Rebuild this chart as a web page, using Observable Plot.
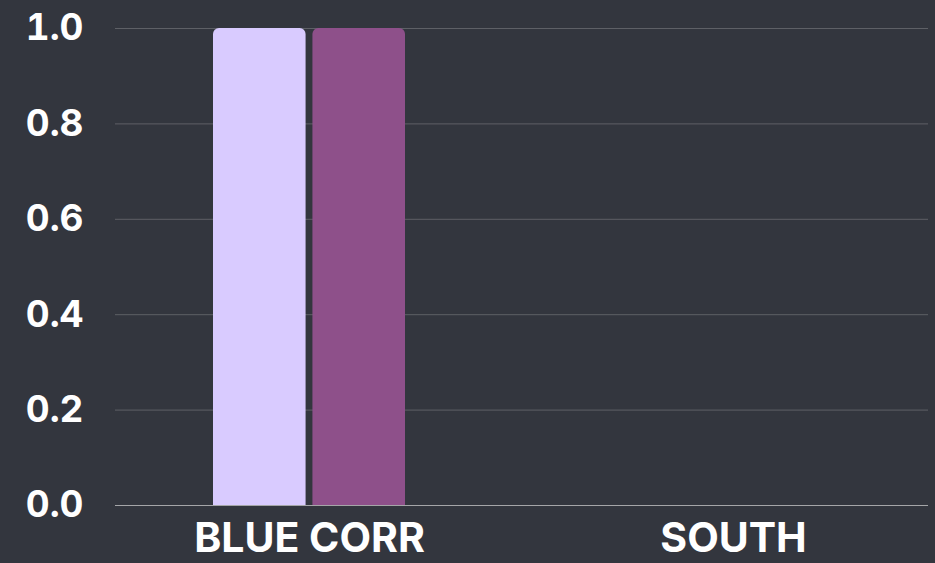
<!DOCTYPE html>
<html>
<head>
<meta charset="utf-8">
<script src="https://cdn.jsdelivr.net/npm/d3@7"></script>
<script src="https://cdn.jsdelivr.net/npm/@observablehq/plot@0.6"></script>
<style>
  html, body { margin: 0; padding: 0; background: #33363e; }
  #chart { width: 935px; height: 563px; }
</style>
</head>
<body>
<div id="chart"></div>
<script>
const categories = ["BLUE CORR", "SOUTH"];
const seriesNames = ["Series 1", "Series 2"];
const series1 = [1.0, 0];
const series2 = [1.0, 0];
const yTicks = [0, 0.2, 0.4, 0.6, 0.8, 1.0];
const seriesColors = ["#d9cbff", "#8e508a"];

const data1 = categories.map((c, i) => ({category: c, series: seriesNames[0], value: series1[i]}));
const data2 = categories.map((c, i) => ({category: c, series: seriesNames[1], value: series2[i]}));

const halfGap = 3;
const xPad = {paddingInner: 0.546, paddingOuter: 0.23};
const W = 935, ML = 115, MR = 7;
// band width of a category (used only for the inset that splits a band into two bars)
const step = (W - ML - MR) / (categories.length - xPad.paddingInner + 2 * xPad.paddingOuter);
const bw = step * (1 - xPad.paddingInner);
const inset = bw / 2 + halfGap;

const chart = Plot.plot({
  width: W,
  height: 563,
  marginLeft: ML,
  marginRight: MR,
  marginTop: 28,
  marginBottom: 58,
  style: {background: "#33363e", color: "#ffffff", fontFamily: "Inter, sans-serif", fontWeight: 700},
  x: {domain: categories, ...xPad, label: null},
  y: {domain: [0, 1], label: null},
  color: {domain: seriesNames, range: seriesColors},
  marks: [
    Plot.gridY(yTicks, {stroke: "#5e6066", strokeOpacity: 1, strokeWidth: 1}),
    Plot.axisY(yTicks, {tickFormat: d3.format(".1f"), tickSize: 0, tickPadding: 32, fontSize: 37, fill: "#ffffff", label: null}),
    Plot.axisX({tickSize: 0, tickPadding: 17, fontSize: 41, fill: "#ffffff", label: null}),
    Plot.barY(data1, {x: "category", y: "value", fill: "series", insetLeft: 0, insetRight: inset, rx1y1: 6, rx2y1: 6}),
    Plot.barY(data2, {x: "category", y: "value", fill: "series", insetLeft: inset, insetRight: 0, rx1y1: 6, rx2y1: 6}),
    Plot.ruleY([0], {stroke: "#a5a6a8", strokeWidth: 1})
  ]
});
document.getElementById("chart").appendChild(chart);
</script>
</body>
</html>
